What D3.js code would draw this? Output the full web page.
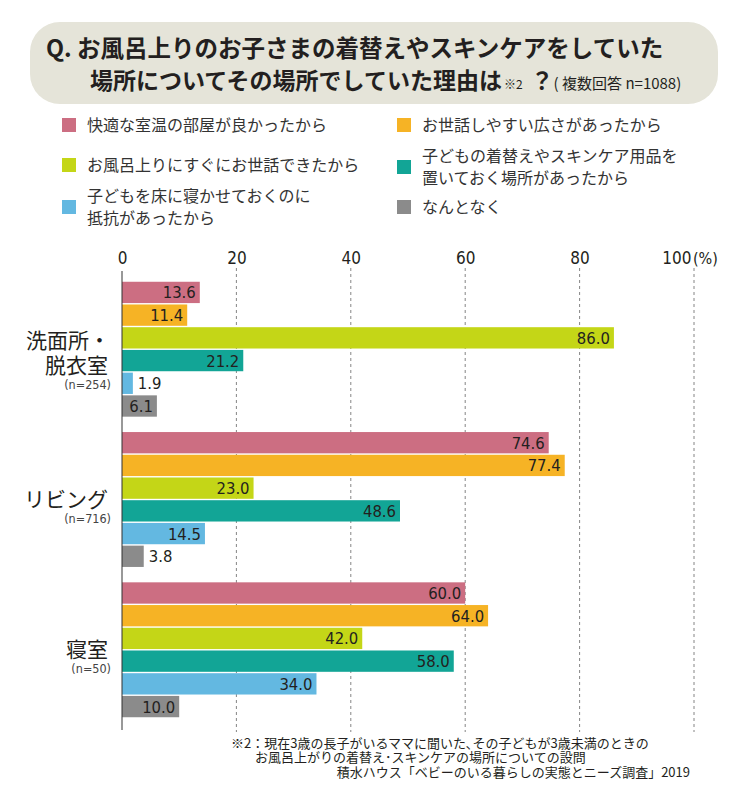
<!DOCTYPE html>
<html>
<head>
<meta charset="utf-8">
<script src="https://cdn.jsdelivr.net/npm/d3@7"></script>
<style>
  html, body { margin: 0; padding: 0; background: #fff; }
  svg { display: block; }
</style>
</head>
<body>
<div id="chart"></div>
<script>
// ---------- data ----------
const categoryLines = [["洗面所・", "脱衣室"], ["リビング"], ["寝室"]];
const sampleSizes = ["(n=254)", "(n=716)", "(n=50)"];
const seriesNames = [
  "快適な室温の部屋が良かったから",
  "お世話しやすい広さがあったから",
  "お風呂上りにすぐにお世話できたから",
  "子どもの着替えやスキンケア用品を\n置いておく場所があったから",
  "子どもを床に寝かせておくのに\n抵抗があったから",
  "なんとなく"
];
const seriesColors = ["#cc6e82", "#f6b325", "#c4d617", "#12a596", "#63b8e1", "#8b8b8b"];
const comfortableTemp = [13.6, 74.6, 60.0];
const easyCareSpace   = [11.4, 77.4, 64.0];
const rightAfterBath  = [86.0, 23.0, 42.0];
const suppliesPlaced  = [21.2, 48.6, 58.0];
const avoidFloor      = [1.9, 14.5, 34.0];
const noReason        = [6.1, 3.8, 10.0];
const tickValues = [0, 20, 40, 60, 80, 100];
const titleLine1 = "Q. お風呂上りのお子さまの着替えやスキンケアをしていた";
const titleLine2 = "場所についてその場所でしていた理由は";
const noteLines = [
  "※2：現在3歳の長子がいるママに聞いた､その子どもが3歳未満のときの",
  "お風呂上がりの着替え･スキンケアの場所についての設問"
];
const sourceText = "積水ハウス「ベビーのいる暮らしの実態とニーズ調査」2019";

const seriesValues = [comfortableTemp, easyCareSpace, rightAfterBath, suppliesPlaced, avoidFloor, noReason];
const groups = categoryLines.map((c, i) => i);

// ---------- setup ----------
const W = 735, H = 810;
const JP = "'Noto Sans CJK JP', 'Noto Sans', sans-serif";
const NUM = "'Liberation Sans Narrow', 'DejaVu Sans Condensed', 'Roboto', sans-serif";
const ink = "#231f20";

const svg = d3.select("#chart").append("svg")
  .attr("width", W).attr("height", H)
  .attr("viewBox", `0 0 ${W} ${H}`);

// ---------- title ----------
svg.append("rect")
  .attr("x", 30).attr("y", 22).attr("width", 688).attr("height", 82)
  .attr("rx", 30).attr("ry", 30)
  .attr("fill", "#e5e4d9");

svg.append("text")
  .attr("x", 46).attr("y", 57)
  .attr("font-family", JP).attr("font-weight", "bold")
  .attr("font-size", 23.5).attr("fill", ink)
  .text(titleLine1);

const t2 = svg.append("text")
  .attr("x", 90).attr("y", 89)
  .attr("font-family", JP).attr("font-weight", "bold")
  .attr("font-size", 23).attr("fill", ink);
t2.append("tspan").text(titleLine2);
t2.append("tspan").attr("font-size", 12).attr("font-weight", "normal").attr("dx", 2).text("※2");
t2.append("tspan").attr("dx", 8).text("？");
t2.append("tspan").attr("font-size", 15).attr("font-weight", "normal").attr("dx", 0).text("( 複数回答 n=1088)");

// ---------- legend ----------
const legendPos = [[62, 125], [397, 125], [62, 165], [397, 167], [62, 207], [397, 207]];
seriesNames.forEach((name, i) => {
  const [lx, ly] = legendPos[i];
  const g = svg.append("g").attr("transform", `translate(${lx},${ly})`);
  g.append("rect").attr("x", 0).attr("y", -7).attr("width", 14).attr("height", 14)
    .attr("fill", seriesColors[i]);
  const lines = name.split("\n");
  const lh = 22;
  const t = g.append("text")
    .attr("font-family", JP).attr("font-size", 16).attr("fill", "#333");
  lines.forEach((ln, k) => {
    t.append("tspan")
      .attr("x", 25)
      .attr("y", (k - (lines.length - 1) / 2) * lh)
      .attr("dy", "0.35em")
      .text(ln);
  });
});

// ---------- scales ----------
const x = d3.scaleLinear().domain([0, 100]).range([122, 694]);
const y0 = d3.scaleBand().domain(groups).range([274, 725]).paddingInner(0.093).paddingOuter(0.047);
const y1 = d3.scaleBand().domain(d3.range(seriesValues.length)).range([0, y0.bandwidth()]).padding(0);

// gridlines
svg.append("g").selectAll("line")
  .data(tickValues.filter(d => d > 0))
  .join("line")
  .attr("x1", d => x(d)).attr("x2", d => x(d))
  .attr("y1", 268).attr("y2", 732)
  .attr("stroke", "#777").attr("stroke-width", 0.9)
  .attr("stroke-dasharray", "3,3");

// axis ticks on top
const axis = svg.append("g")
  .attr("transform", `translate(0,264)`)
  .call(d3.axisTop(x).tickValues(tickValues).tickSize(0).tickPadding(0).tickFormat(d3.format("d")));
axis.select(".domain").remove();
axis.selectAll("text")
  .attr("font-family", NUM).attr("font-size", 17).attr("fill", ink)
  .attr("dy", 0)
  .attr("text-anchor", d => d === 100 ? "end" : "middle")
  .attr("dx", d => d === 100 ? -3 : 0);
svg.append("text")
  .attr("x", x(100) - 1).attr("y", 264)
  .attr("font-family", NUM).attr("font-size", 16).attr("fill", ink)
  .text("(%)");

// ---------- bars ----------
const gGroups = svg.append("g").selectAll("g")
  .data(groups)
  .join("g")
  .attr("transform", d => `translate(0,${y0(d)})`);

gGroups.each(function(gi) {
  const g = d3.select(this);
  const rows = seriesValues.map((arr, si) => ({ si, v: arr[gi] }));
  g.selectAll("rect")
    .data(rows)
    .join("rect")
    .attr("x", x(0))
    .attr("y", d => y1(d.si) + 0.7)
    .attr("width", d => x(d.v) - x(0))
    .attr("height", y1.bandwidth() - 1.4)
    .attr("fill", d => seriesColors[d.si]);
  g.selectAll("text.val")
    .data(rows)
    .join("text")
    .attr("class", "val")
    .attr("x", d => (x(d.v) - x(0) < 30) ? x(d.v) + 5 : x(d.v) - 4)
    .attr("y", d => y1(d.si) + y1.bandwidth() / 2)
    .attr("dy", "0.36em")
    .attr("text-anchor", d => (x(d.v) - x(0) < 30) ? "start" : "end")
    .attr("font-family", NUM).attr("font-size", 16.5).attr("fill", ink)
    .text(d => d.v.toFixed(1));
});

// vertical axis line
svg.append("line")
  .attr("x1", x(0)).attr("x2", x(0))
  .attr("y1", 271).attr("y2", 730)
  .attr("stroke", "#333").attr("stroke-width", 1);

// ---------- category labels ----------
groups.forEach(gi => {
  const cy = y0(gi) + y0.bandwidth() / 2;
  const lines = categoryLines[gi];
  const t = svg.append("text")
    .attr("font-family", JP).attr("font-size", 21).attr("fill", ink)
    .attr("text-anchor", "end");
  let nY;
  if (lines.length === 2) {
    t.append("tspan").attr("x", 110).attr("y", cy - 9).attr("dy", "0.35em").text(lines[0]);
    t.append("tspan").attr("x", 108).attr("y", cy + 16).attr("dy", "0.35em").text(lines[1]);
    nY = cy + 35;
  } else {
    t.append("tspan").attr("x", 108).attr("y", cy).attr("dy", "0.35em").text(lines[0]);
    nY = cy + 19;
  }
  svg.append("text")
    .attr("x", 111).attr("y", nY).attr("dy", "0.35em")
    .attr("text-anchor", "end")
    .attr("font-family", NUM).attr("font-size", 12.5).attr("fill", "#444")
    .text(sampleSizes[gi]);
});

// ---------- notes ----------
svg.append("text")
  .attr("x", 231).attr("y", 743).attr("dy", "0.35em")
  .attr("font-family", JP).attr("font-size", 13).attr("fill", ink)
  .text(noteLines[0]);
svg.append("text")
  .attr("x", 255).attr("y", 757).attr("dy", "0.35em")
  .attr("font-family", JP).attr("font-size", 13).attr("fill", ink)
  .text(noteLines[1]);
svg.append("text")
  .attr("x", 690).attr("y", 772).attr("dy", "0.35em")
  .attr("text-anchor", "end")
  .attr("font-family", JP).attr("font-size", 13).attr("fill", ink)
  .text(sourceText);
</script>
</body>
</html>
